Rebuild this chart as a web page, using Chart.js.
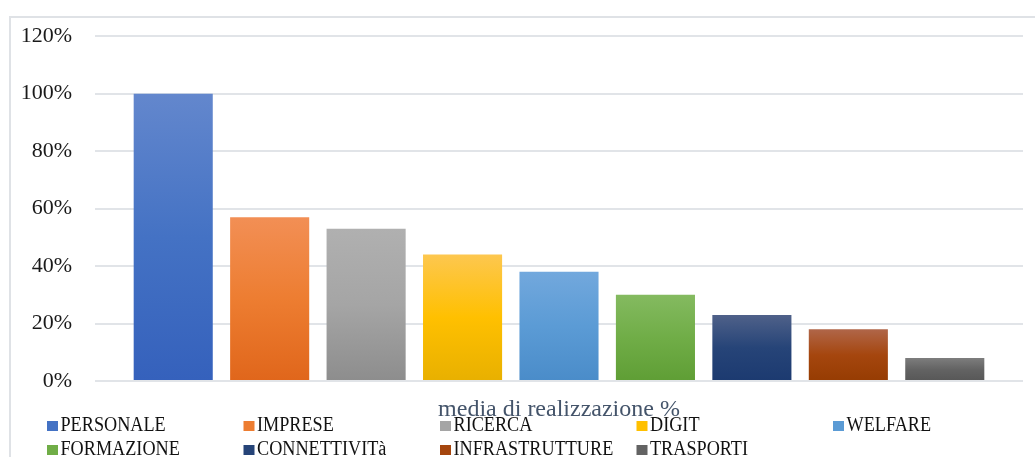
<!DOCTYPE html>
<html>
<head>
<meta charset="utf-8">
<script src="https://cdn.jsdelivr.net/npm/chart.js@4.4.1/dist/chart.umd.min.js"></script>
<style>
  html, body { margin: 0; padding: 0; background: #fff; }
  #wrap { width: 1035px; height: 457px; position: relative; }
</style>
</head>
<body>
<div id="wrap"><canvas id="chart"></canvas></div>
<script>
// categories and values (share of realisation)
const categories = ['PERSONALE', 'IMPRESE', 'RICERCA', 'DIGIT', 'WELFARE',
  'FORMAZIONE', 'CONNETTIVITà', 'INFRASTRUTTURE', 'TRASPORTI'];
const values = [1.00, 0.57, 0.53, 0.44, 0.38, 0.30, 0.23, 0.18, 0.08];
const yTicks = [0, 0.2, 0.4, 0.6, 0.8, 1.0, 1.2];
const axisTitle = 'media di realizzazione %';

// gradient stops per bar: top, middle, bottom
const topColors = ['#6387cd', '#f28f55', '#b0b0b0', '#fdc74f', '#72a8dd', '#84ba60', '#4f6189', '#b06649', '#7d7d7d'];
const baseColors = ['#4472c4', '#ed7d31', '#a5a5a5', '#ffc000', '#5b9bd5', '#70ad47', '#264478', '#a5460e', '#636363'];
const bottomColors = ['#3561bc', '#e0661b', '#8d8d8d', '#e8b000', '#4a8cc9', '#5f9e35', '#1c3a70', '#963c02', '#575757'];

const FONT = "'Liberation Serif', 'Times New Roman', serif";

function barGradient(context) {
  const chart = context.chart;
  const i = context.dataIndex;
  if (!chart.chartArea || !chart.scales.y) return baseColors[i];
  const y = chart.scales.y;
  const top = y.getPixelForValue(values[i]);
  const bottom = y.getPixelForValue(0);
  const g = chart.ctx.createLinearGradient(0, top, 0, bottom);
  g.addColorStop(0, topColors[i]);
  g.addColorStop(0.5, baseColors[i]);
  g.addColorStop(1, bottomColors[i]);
  return g;
}

// outer frame like the office chart border
const framePlugin = {
  id: 'frame',
  beforeDraw(chart) {
    const ctx = chart.ctx;
    ctx.save();
    ctx.strokeStyle = '#dfe2e6';
    ctx.lineWidth = 2;
    ctx.strokeRect(10, 17, chart.width + 40, chart.height + 40);
    ctx.restore();
  }
};

// axis title + legend in equal-width columns, slightly condensed text
const bottomPlugin = {
  id: 'bottomLegend',
  afterDraw(chart) {
    const ctx = chart.ctx;
    const area = chart.chartArea;
    ctx.save();
    ctx.textBaseline = 'alphabetic';

    ctx.font = '24px ' + FONT;
    ctx.fillStyle = '#44546a';
    ctx.textAlign = 'center';
    ctx.fillText(axisTitle, (area.left + area.right) / 2, area.bottom + 35);

    const colLeft = 47, colWidth = 196.5, perRow = 5;
    const baselines = [area.bottom + 50, area.bottom + 74];
    const squeeze = 0.91;
    ctx.textAlign = 'left';
    ctx.font = '20px ' + FONT;
    categories.forEach((name, i) => {
      const x = colLeft + (i % perRow) * colWidth;
      const base = baselines[Math.floor(i / perRow)];
      ctx.fillStyle = baseColors[i];
      ctx.fillRect(x, base - 10, 11, 10);
      ctx.fillStyle = '#111';
      ctx.save();
      ctx.translate(x + 13.5, base);
      ctx.scale(squeeze, 1);
      ctx.fillText(name, 0, 0);
      ctx.restore();
    });
    ctx.restore();
  }
};

new Chart(document.getElementById('chart'), {
  type: 'bar',
  data: {
    labels: categories,
    datasets: [{
      label: axisTitle,
      data: values,
      backgroundColor: barGradient,
      borderWidth: 0,
      categoryPercentage: 1,
      barPercentage: 0.82
    }]
  },
  options: {
    responsive: true,
    maintainAspectRatio: false,
    animation: false,
    layout: {
      padding: { left: 0, right: 12, top: 34, bottom: 76 }
    },
    plugins: {
      legend: { display: false },
      tooltip: { enabled: false }
    },
    scales: {
      x: { display: false },
      y: {
        min: 0,
        max: 1.2,
        afterBuildTicks: (scale) => { scale.ticks = yTicks.map(v => ({ value: v })); },
        afterFit: (scale) => { scale.width = 125; },
        border: { display: false },
        grid: { color: '#e1e4e8', lineWidth: 2, drawTicks: true, tickLength: 30 },
        ticks: {
          padding: 23,
          color: '#1a1a1a',
          font: { family: FONT, size: 22 },
          callback: (v) => Math.round(v * 100) + '%'
        }
      },
      y2: {
        position: 'right',
        min: 0,
        max: 1.2,
        afterBuildTicks: (scale) => { scale.ticks = yTicks.map(v => ({ value: v })); },
        border: { display: false },
        grid: { color: '#e1e4e8', lineWidth: 2, drawOnChartArea: false, drawTicks: true, tickLength: 30 },
        ticks: { display: false }
      }
    }
  },
  plugins: [framePlugin, bottomPlugin]
});
</script>
</body>
</html>
